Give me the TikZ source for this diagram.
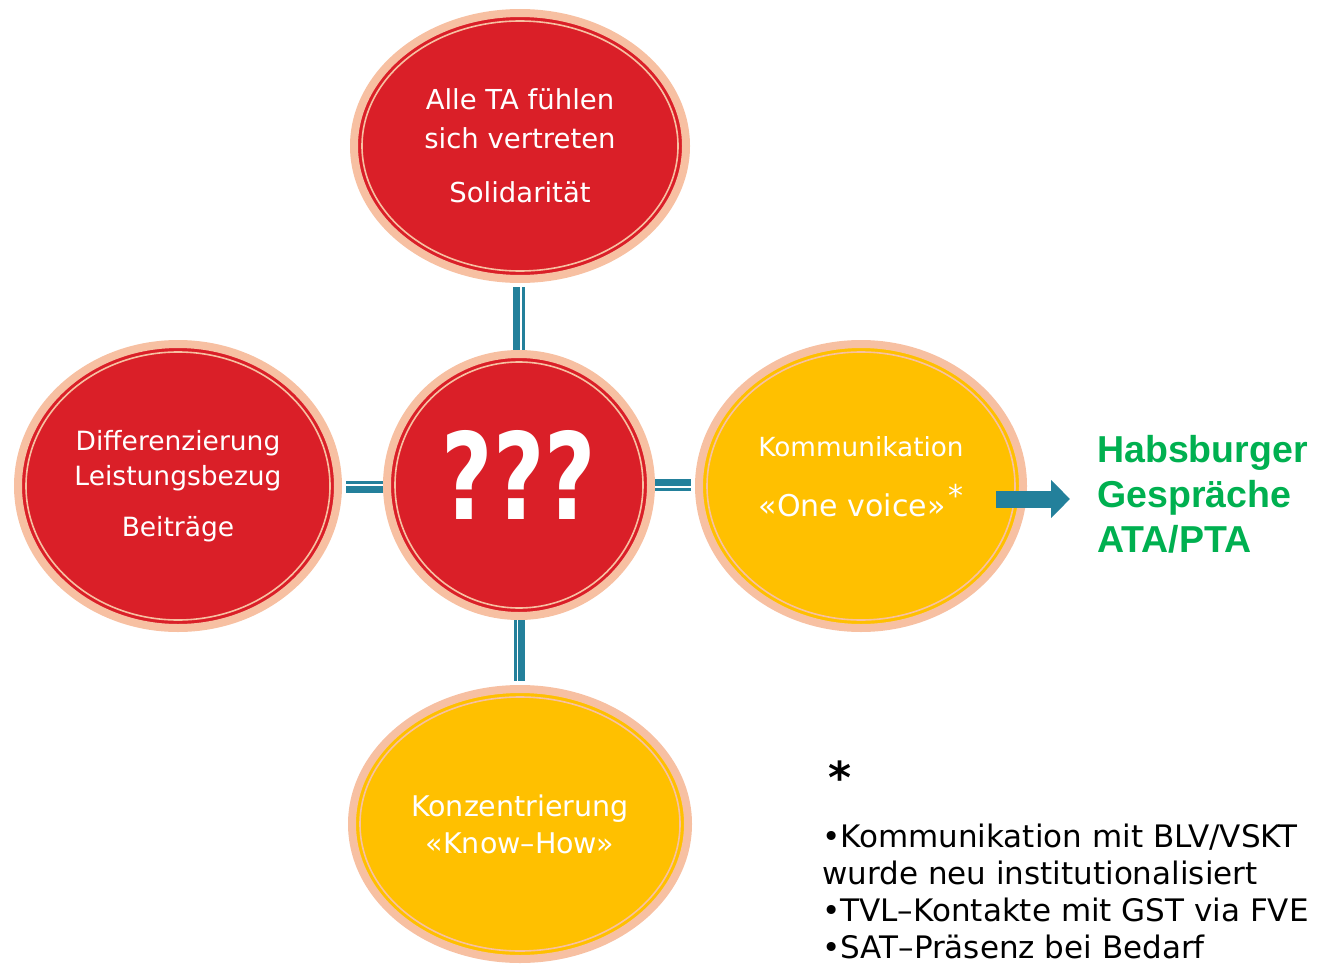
\documentclass[tikz,border=0pt]{standalone}
\usepackage{fontspec}
\setmainfont{DejaVu Sans}
\newfontfamily\habsfont{Liberation Sans}
\usetikzlibrary{positioning,arrows.meta,shapes.geometric,calc}
\definecolor{CircRed}{HTML}{DA1F28}
\definecolor{CircGold}{HTML}{FFC000}
\definecolor{RingPeach}{HTML}{F7C0A2}
\definecolor{BarTeal}{HTML}{23809B}
\definecolor{HabsGreen}{HTML}{00B050}

\begin{document}
\begin{tikzpicture}[
  x=1pt, y=-1pt,
  blob/.style={ellipse, draw=RingPeach, line width=8pt, inner sep=0pt, text=white, align=center,
    path picture={\draw[RingPeach, line width=1.6pt]
      let \p1=(path picture bounding box.north east), \p2=(path picture bounding box.center)
      in (\p2) ellipse [x radius={\x1-\x2-8pt}, y radius={\y1-\y2-8pt}];}},
  qmark/.style={text=white, inner sep=0pt, font=\bfseries\fontsize{120}{120}\selectfont},
  komtext/.style={text=white, inner sep=0pt, align=center, font=\fontsize{26.3}{38}\selectfont},
  bar/.style={draw=BarTeal, line width=7pt},
  thinbar/.style={draw=BarTeal, line width=3pt},
  blockarrow/.style={draw=BarTeal, line width=17pt, -{Triangle[length=19pt, width=37pt]}},
  greenlbl/.style={text=HabsGreen, inner sep=0pt, align=left, font=\habsfont\bfseries\fontsize{37.5}{45}\selectfont},
  notetext/.style={inner sep=0pt, align=left, font=\fontsize{31}{37}\selectfont}
]
\useasboundingbox (0,0) rectangle (1320,966);

% circles
\node[blob, fill=CircRed, minimum width=332pt, minimum height=266pt,
  font=\fontsize{27.5}{39}\selectfont] (ta) at (520,146) {Alle TA fühlen\\sich vertreten\\[15pt]Solidarität};
\node[blob, fill=CircRed, minimum width=320pt, minimum height=284pt,
  font=\fontsize{26.5}{35}\selectfont] (diff) at (178,486) {Differenzierung\\Leistungsbezug\\[16pt]Beiträge};
\node[blob, fill=CircRed, minimum width=264pt, minimum height=262pt,
  label={[qmark, yshift=10pt]center:\scalebox{0.74}[1]{???}}] (hub) at (519,485) {};
\node[blob, fill=CircGold, minimum width=324pt, minimum height=284pt,
  label={[komtext, yshift=9pt]center:{Kommunikation\\[22pt]{\fontsize{30}{38}\selectfont «One voice»\kern3pt\raisebox{10pt}{*}}}}] (komm) at (861,486) {};
\node[blob, fill=CircGold, minimum width=336pt, minimum height=270pt,
  font=\fontsize{28.5}{37}\selectfont] (know) at (520,824) {Konzentrierung\\«Know–How»};

% connectors
\draw[bar] ([xshift=-3.5pt, yshift=-4pt]ta.south) -- ([xshift=-3.5pt]ta.south |- hub.north);
\draw[thinbar] ([xshift=3.5pt, yshift=-4pt]ta.south) -- ([xshift=3.5pt]ta.south |- hub.north);
\draw[thinbar] ([xshift=-4.5pt]know.north |- hub.south) -- ([xshift=-4.5pt, yshift=4pt]know.north);
\draw[bar] ([xshift=1.5pt]know.north |- hub.south) -- ([xshift=1.5pt, yshift=4pt]know.north);
\draw[thinbar] ([xshift=4pt, yshift=4pt]diff.east) -- ([yshift=4pt]diff.east -| hub.west);
\draw[bar] ([xshift=4pt, yshift=-3.5pt]diff.east) -- ([yshift=-3.5pt]diff.east -| hub.west);
\draw[bar] ([yshift=2.5pt]hub.east) -- ([xshift=-4pt, yshift=2.5pt]hub.east -| komm.west);
\draw[thinbar] ([yshift=-4.5pt]hub.east) -- ([xshift=-4pt, yshift=-4.5pt]hub.east -| komm.west);

% outcome
\node[greenlbl, anchor=north west] (habs) at (1097,435) {Habsburger\\Gespräche\\ATA/PTA};
\coordinate (arrtail) at (996,499);
\coordinate (arrtip) at (1070,499);
\draw[blockarrow] (arrtail) -- (arrtip);

% footnote
\node[anchor=base, inner sep=0pt, font=\bfseries\fontsize{44}{44}\selectfont] (star) at (840,793) {*};
\node[notetext, anchor=north west] (notes) at (822,824) {•Kommunikation mit BLV/VSKT\\wurde neu institutionalisiert\\•TVL–Kontakte mit GST via FVE\\•SAT–Präsenz bei Bedarf};
\end{tikzpicture}
\end{document}
